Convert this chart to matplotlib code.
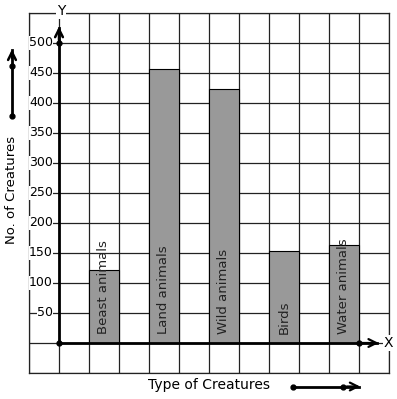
import numpy as np
import matplotlib
matplotlib.use('Agg')
import matplotlib.pyplot as plt

## data ##
creatures = ['Beast animals', 'Land animals', 'Wild animals', 'Birds', 'Water animals']
counts = [122, 457, 423, 153, 163]
bar_x = [1, 3, 5, 7, 9]
yticks = [50, 100, 150, 200, 250, 300, 350, 400, 450, 500]

fig = plt.figure(figsize=(3.97, 3.99), dpi=100)
ax = fig.add_axes([29/397, 26/399, 360/397, 360/399])
ax.set_xlim(-1, 11)
ax.set_ylim(-50, 550)

# grid of squares
ax.set_xticks(np.arange(-1, 12, 1))
ax.set_yticks(np.arange(-50, 551, 50))
ax.grid(True, color='#222222', linewidth=0.9)
ax.tick_params(length=0, labelbottom=False, labelleft=False)
for s in ax.spines.values():
    s.set_linewidth(0.9)
    s.set_color('#222222')
ax.set_axisbelow(True)

# bars
ax.bar(bar_x, counts, width=1, align='edge', color='#999999',
       edgecolor='black', linewidth=0.8, zorder=3)
for xb, name in zip(bar_x, creatures):
    ax.text(xb + 0.5, 15, name, rotation=90, ha='center', va='bottom',
            fontsize=9.5, color='#222222', zorder=4)

# axes with arrows
ax.plot([0, 10.6], [0, 0], color='black', lw=2, zorder=5, clip_on=False)
ax.plot([0, 0], [0, 525], color='black', lw=2, zorder=5, clip_on=False)
ax.annotate('', xy=(10.75, 0), xytext=(10.0, 0),
            arrowprops=dict(arrowstyle='->', lw=1.6, color='black',
                            mutation_scale=14), annotation_clip=False, zorder=5)
ax.annotate('', xy=(0, 532), xytext=(0, 500),
            arrowprops=dict(arrowstyle='->', lw=1.8, color='black',
                            mutation_scale=14), annotation_clip=False, zorder=5)
ax.plot([0, 0, 10], [0, 500, 0], 'o', color='black', ms=3.5, zorder=6, clip_on=False)
ax.text(10.97, 0, 'X', ha='center', va='center', fontsize=10, zorder=6,
        bbox=dict(facecolor='white', edgecolor='none', pad=0.5))
ax.text(0.07, 553, 'Y', ha='center', va='center', fontsize=10, zorder=6,
        clip_on=False, bbox=dict(facecolor='white', edgecolor='none', pad=0.5))

# tick labels
for v in yticks:
    ax.text(-0.2, v, str(v), ha='right', va='center', fontsize=9, zorder=6,
            bbox=dict(facecolor='white', edgecolor='none', pad=0.3))

# axis titles with decorative arrows
ax.text(-1.57, 255, 'No. of Creatures', rotation=90, ha='center', va='center',
        fontsize=9.5, clip_on=False)
ax.plot([-1.567, -1.567], [378, 488], color='black', lw=2, clip_on=False)
ax.annotate('', xy=(-1.567, 494), xytext=(-1.567, 470),
            arrowprops=dict(arrowstyle='->', lw=1.8, color='black',
                            mutation_scale=14), annotation_clip=False)
ax.plot([-1.567, -1.567], [378, 462], 'o', color='black', ms=3.5, clip_on=False)

ax.text(5.0, -70, 'Type of Creatures', ha='center', va='center',
        fontsize=10, clip_on=False)
ax.plot([7.8, 10.0], [-72.5, -72.5], color='black', lw=2, clip_on=False)
ax.annotate('', xy=(10.13, -72.5), xytext=(9.5, -72.5),
            arrowprops=dict(arrowstyle='->', lw=1.6, color='black',
                            mutation_scale=14), annotation_clip=False)
ax.plot([7.8, 9.47], [-72.5, -72.5], 'o', color='black', ms=3.5, clip_on=False)

fig.savefig('out.png', dpi=100)
